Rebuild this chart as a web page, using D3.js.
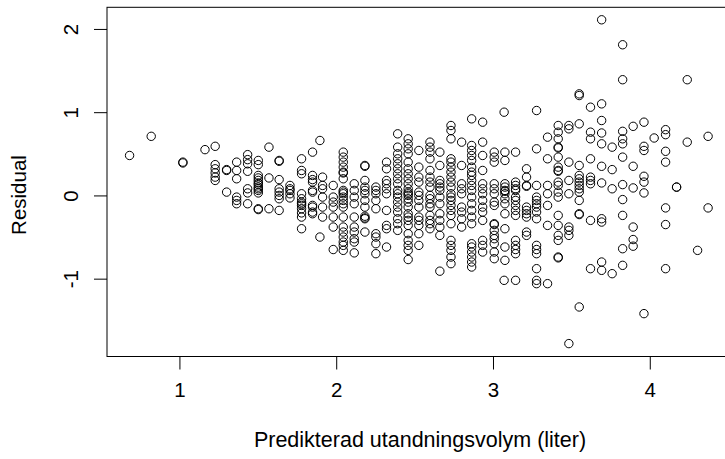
<!DOCTYPE html>
<html>
<head>
<meta charset="utf-8">
<script src="https://cdn.jsdelivr.net/npm/d3@7"></script>
<style>
  html, body { margin: 0; padding: 0; background: #fff; }
  svg { display: block; }
  text { font-family: "Liberation Sans", Arial, sans-serif; fill: #000; }
</style>
</head>
<body>
<svg id="chart" width="725" height="459"></svg>
<script>
// Predicted values (liter), grouped into columns of nearly equal fitted value
const fittedLevels = [0.682, 0.820, 1.022, 1.163, 1.228, 1.301, 1.365, 1.435, 1.503, 1.571,
  1.636, 1.705, 1.779, 1.849, 1.896, 1.913, 1.981, 2.045, 2.115, 2.183,
  2.253, 2.321, 2.392, 2.459, 2.527, 2.598, 2.661, 2.732, 2.800, 2.864,
  2.934, 3.008, 3.071, 3.076, 3.144, 3.214, 3.278, 3.348, 3.416, 3.484,
  3.550, 3.622, 3.693, 3.760, 3.827, 3.894, 3.963, 4.028, 4.101, 4.171,
  4.239, 4.305, 4.372];

// Residuals for each fitted level
const residualsByLevel = [
  [0.48],
  [0.71],
  [0.40, 0.39],
  [0.55],
  [0.59, 0.37, 0.32, 0.27, 0.22, 0.18],
  [0.31, 0.30, 0.04],
  [0.40, 0.30, 0.20, -0.02, -0.06, -0.10],
  [0.49, 0.43, 0.38, 0.29, 0.08, 0.03, -0.10],
  [0.42, 0.37, 0.24, 0.21, 0.18, 0.15, 0.13, 0.10, 0.08, 0.06, 0.03, -0.16, -0.17],
  [0.58, 0.21, -0.16],
  [0.42, 0.41, 0.19, 0.08, 0.04, 0.00, -0.04, -0.18],
  [0.12, 0.08, 0.06, 0.02, -0.03],
  [0.44, 0.30, 0.26, 0.02, -0.04, -0.08, -0.10, -0.12, -0.16, -0.21, -0.26, -0.40],
  [0.52, 0.24, 0.19, 0.16, 0.06, 0.04, -0.12, -0.14, -0.20, -0.22],
  [0.66, -0.50],
  [0.22, 0.12, 0.08, -0.02, -0.14, -0.26],
  [0.12, -0.02, -0.08, -0.14, -0.26, -0.38, -0.65],
  [0.52, 0.46, 0.40, 0.34, 0.28, 0.27, 0.20, 0.06, 0.04, 0.02, -0.02, -0.06, -0.10, -0.14, -0.26, -0.38, -0.44, -0.50, -0.56, -0.60, -0.66],
  [0.14, 0.06, -0.02, -0.10, -0.26, -0.38, -0.44, -0.52, -0.56, -0.69],
  [0.36, 0.35, 0.18, 0.10, 0.06, 0.02, -0.06, -0.14, -0.25, -0.27, -0.28, -0.44],
  [0.10, 0.06, 0.02, -0.06, -0.16, -0.46, -0.50, -0.58, -0.70],
  [0.40, 0.32, 0.18, 0.14, 0.08, 0.02, -0.18, -0.36, -0.40, -0.62],
  [0.74, 0.58, 0.50, 0.44, 0.38, 0.32, 0.26, 0.20, 0.14, 0.06, 0.02, -0.02, -0.08, -0.14, -0.20, -0.28, -0.34, -0.42],
  [0.68, 0.62, 0.56, 0.50, 0.40, 0.32, 0.26, 0.20, 0.14, 0.08, 0.04, 0.02, 0.00, -0.04, -0.08, -0.14, -0.22, -0.26, -0.30, -0.36, -0.46, -0.54, -0.60, -0.66, -0.77],
  [0.54, 0.34, 0.22, 0.16, 0.04, 0.00, -0.06, -0.14, -0.26, -0.30, -0.36, -0.46, -0.60],
  [0.64, 0.58, 0.52, 0.44, 0.30, 0.22, 0.16, 0.10, 0.00, -0.04, -0.10, -0.14, -0.24, -0.30, -0.34, -0.40],
  [0.52, 0.36, 0.18, 0.14, 0.10, 0.06, -0.02, -0.10, -0.22, -0.30, -0.38, -0.48, -0.91],
  [0.84, 0.78, 0.68, 0.44, 0.40, 0.34, 0.28, 0.22, 0.16, 0.10, 0.02, -0.02, -0.06, -0.12, -0.18, -0.24, -0.34, -0.54, -0.60, -0.66, -0.74, -0.82],
  [0.64, 0.36, 0.14, 0.08, 0.02, -0.14, -0.20, -0.28, -0.38],
  [0.92, 0.60, 0.54, 0.48, 0.42, 0.34, 0.28, 0.24, 0.18, 0.12, 0.06, -0.02, -0.10, -0.18, -0.26, -0.34, -0.58, -0.62, -0.68, -0.74, -0.80, -0.86],
  [0.88, 0.64, 0.48, 0.30, 0.14, 0.08, 0.02, -0.06, -0.14, -0.20, -0.30, -0.54, -0.60, -0.68],
  [0.52, 0.46, 0.40, 0.14, 0.08, 0.02, -0.08, -0.12, -0.34, -0.35, -0.42, -0.48, -0.52, -0.58, -0.68, -0.76],
  [1.00, -1.02],
  [0.52, 0.42, 0.14, 0.10, 0.06, 0.05, 0.02, -0.04, -0.10, -0.22, -0.40, -0.62, -0.78],
  [0.52, 0.16, 0.12, 0.08, 0.06, -0.02, -0.06, -0.12, -0.18, -0.24, -0.54, -0.60, -0.65, -0.70, -1.02],
  [0.32, 0.22, 0.12, 0.11, -0.14, -0.18, -0.22, -0.26, -0.44, -0.48],
  [1.02, 0.56, 0.12, -0.02, -0.06, -0.10, -0.14, -0.20, -0.28, -0.60, -0.65, -0.70, -0.88, -1.02, -1.06],
  [0.70, 0.44, 0.12, 0.02, -0.12, -0.36, -1.06],
  [0.84, 0.76, 0.68, 0.58, 0.57, 0.46, 0.34, 0.30, 0.29, 0.16, 0.12, 0.04, -0.02, -0.24, -0.36, -0.48, -0.54, -0.74, -0.75],
  [0.84, 0.80, 0.40, 0.18, 0.02, -0.38, -0.42, -0.48, -1.78],
  [1.22, 1.20, 0.86, 0.36, 0.24, 0.20, 0.16, 0.12, 0.08, 0.04, -0.06, -0.22, -0.23, -1.34],
  [1.06, 0.76, 0.68, 0.44, 0.22, 0.18, 0.14, -0.30, -0.88],
  [2.11, 1.10, 0.90, 0.75, 0.62, 0.35, 0.15, -0.28, -0.32, -0.80, -0.90],
  [0.58, 0.31, 0.08, -0.94],
  [1.81, 1.39, 0.77, 0.68, 0.62, 0.46, 0.13, -0.05, -0.24, -0.64, -0.84],
  [0.83, 0.35, 0.09, -0.38, -0.53, -0.61],
  [0.88, 0.59, 0.54, 0.23, 0.16, 0.03, -1.42],
  [0.69],
  [0.79, 0.73, 0.53, 0.40, -0.15, -0.35, -0.88],
  [0.10, 0.10],
  [1.39, 0.64],
  [-0.66],
  [0.71, -0.15]
];

const xTicks = [1, 2, 3, 4];
const yTicks = [-1, 0, 1, 2];
const xTitle = "Predikterad utandningsvolym (liter)";
const yTitle = "Residual";

// Build flat point table
const points = [];
fittedLevels.forEach((fx, i) => {
  residualsByLevel[i].forEach(r => points.push({ fitted: fx, resid: r }));
});

const svg = d3.select("#chart");
const plot = { left: 107, top: 7.3, right: 736, bottom: 356.5 };
const FS = 20.5;
const FS_TITLE = 21.5;

const x = d3.scaleLinear().domain([0.538, 4.55]).range([plot.left, plot.right]);
const y = d3.scaleLinear().domain([-1.935, 2.26]).range([plot.bottom, plot.top]);

// Points
svg.append("g")
  .selectAll("circle")
  .data(points)
  .join("circle")
  .attr("cx", d => x(d.fitted))
  .attr("cy", d => y(d.resid))
  .attr("r", 4.2)
  .attr("fill", "none")
  .attr("stroke", "#000")
  .attr("stroke-width", 1);

// Box
svg.append("rect")
  .attr("x", plot.left)
  .attr("y", plot.top)
  .attr("width", plot.right - plot.left)
  .attr("height", plot.bottom - plot.top)
  .attr("fill", "none")
  .attr("stroke", "#000")
  .attr("stroke-width", 1);

const plainFmt = d => String(d);

// X axis
const gx = svg.append("g")
  .attr("transform", `translate(0,${plot.bottom})`)
  .call(d3.axisBottom(x).tickValues(xTicks).tickSize(13).tickPadding(13).tickFormat(plainFmt));
gx.select(".domain").remove();
gx.selectAll(".tick line").attr("stroke", "#000");
gx.selectAll(".tick text")
  .style("font-family", '"Liberation Sans", Arial, sans-serif')
  .style("font-size", FS + "px")
  .attr("fill", "#000");

// Y axis
const gy = svg.append("g")
  .attr("transform", `translate(${plot.left},0)`)
  .call(d3.axisLeft(y).tickValues(yTicks).tickSize(13).tickFormat(plainFmt));
gy.select(".domain").remove();
gy.selectAll(".tick line").attr("stroke", "#000");
gy.selectAll(".tick text")
  .attr("x", null).attr("dy", null)
  .attr("text-anchor", "middle")
  .attr("transform", "translate(-29,0) rotate(-90)")
  .style("font-family", '"Liberation Sans", Arial, sans-serif')
  .style("font-size", FS + "px")
  .attr("fill", "#000");

// Titles
svg.append("text")
  .attr("x", 420)
  .attr("y", 447)
  .attr("text-anchor", "middle")
  .style("font-size", FS_TITLE + "px")
  .text(xTitle);

svg.append("text")
  .attr("transform", `translate(26,195) rotate(-90)`)
  .attr("text-anchor", "middle")
  .style("font-size", FS + "px")
  .text(yTitle);
</script>
</body>
</html>
